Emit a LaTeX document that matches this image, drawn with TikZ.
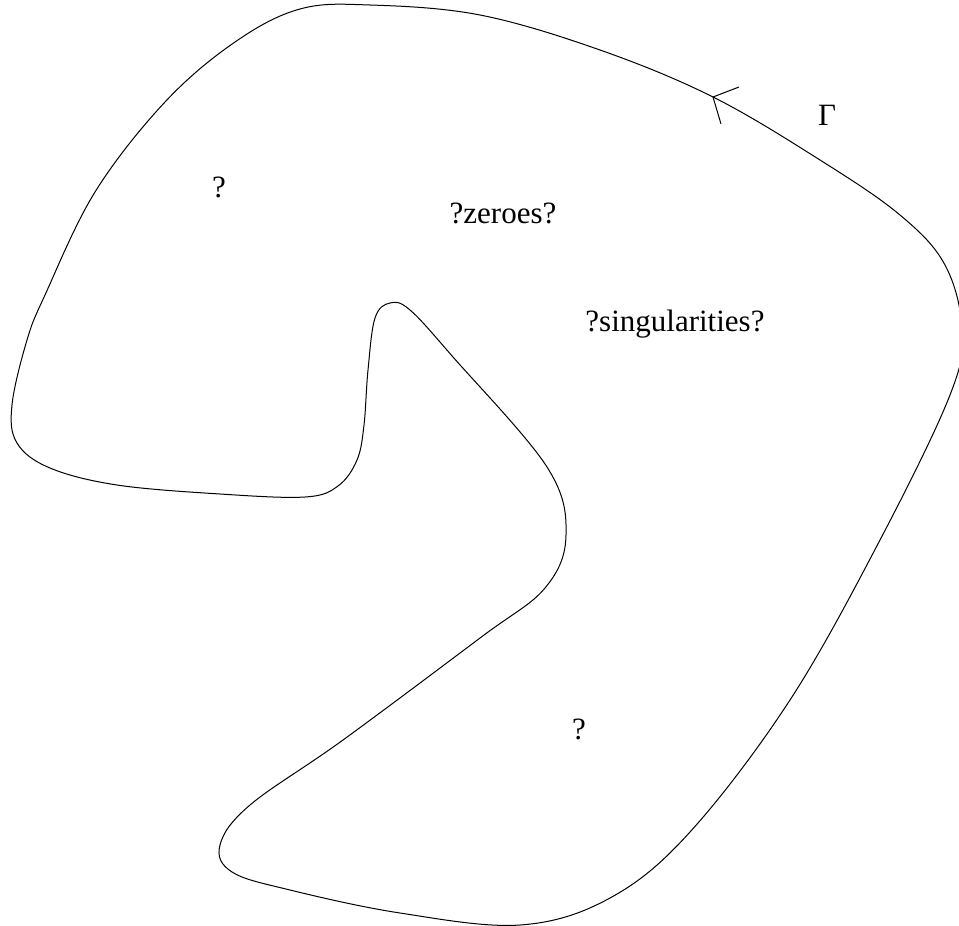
\documentclass[tikz,border=0pt]{standalone}
\usepackage{fontspec}
\setmainfont{Liberation Serif}
\begin{document}
\begin{tikzpicture}[x={(0.5pt,0)},y={(0,-0.5pt)},
  lbl/.style={inner sep=0pt,anchor=base,font=\fontsize{15.5}{18}\selectfont},
  contour/.style={line width=0.5pt,black}]
\useasboundingbox (0,0) rectangle (959,926);
\draw[contour] plot[smooth cycle,tension=0.6] coordinates {
 (300,9) (370,5) (480,15) (600,50) (713,97) (820,160) (900,215) (945,265)
 (962,330) (950,395) (880,540) (790,700) (690,832) (610,898) (520,925)
 (400,913) (290,890) (232,872) (220,845) (250,805) (343,740) (480,638)
 (545,588) (566,535) (547,467) (453,357) (410,310) (390,303) (375,318)
 (368,370) (364,425) (357,460) (338,486) (305,497) (220,494) (117,485)
 (50,468) (17,443) (12,405) (27,340) (45,295) (95,192) (165,102) (235,42)};
\coordinate (tip) at (713,97);
\coordinate (b1) at (739,87);
\coordinate (b2) at (721,124);
\draw[contour] (b1) -- (tip) -- (b2);
\node[lbl] (q1) at (219,197) {?};
\node[lbl] (zer) at (503,223) {?zeroes?};
\node[lbl] (sing) at (675,331) {?singularities?};
\node[lbl] (q2) at (579,739) {?};
\node[lbl] (gam) at (827,125) {Γ};
\end{tikzpicture}
\end{document}
